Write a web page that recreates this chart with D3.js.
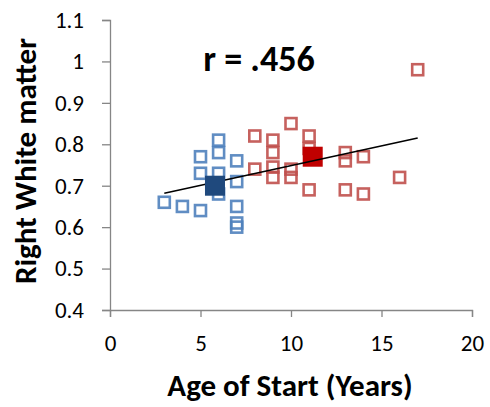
<!DOCTYPE html>
<html lang="en">
<head>
<meta charset="UTF-8">
<title>Right White matter vs Age of Start</title>
<script src="https://cdn.jsdelivr.net/npm/d3@7"></script>
<style>
    body { margin: 0; background: #fff; }
    text { font-family: Calibri, Carlito, Lato, sans-serif; fill: #000; }
</style>
</head>
<body>
<div id="chart"></div>
<script>
    // early starters (blue)
    const blueAge = [3, 4, 5, 5, 5, 6, 6, 6, 6, 7, 7, 7, 7, 7]
    const blueWM = [0.66, 0.65, 0.64, 0.77, 0.73, 0.81, 0.78, 0.73, 0.68, 0.76, 0.71, 0.65, 0.61, 0.60]
    // late starters (red)
    const redAge = [8, 8, 9, 9, 9, 9, 10, 10, 10, 11, 11, 11, 13, 13, 13, 14, 14, 16, 17]
    const redWM = [0.82, 0.74, 0.81, 0.78, 0.745, 0.72, 0.85, 0.74, 0.72, 0.82, 0.79, 0.69, 0.78, 0.76, 0.69, 0.77, 0.68, 0.72, 0.98]
    // group means
    const blueMean = [5.8, 0.70]
    const redMean = [11.2, 0.77]
    // linear fit
    const fitAge = [3, 17]
    const fitWM = [0.682, 0.815]
    const xTicks = [0, 5, 10, 15, 20]
    const yTicks = [0.4, 0.5, 0.6, 0.7, 0.8, 0.9, 1, 1.1]

    const W = 490, H = 407
    const svg = d3.select("#chart").append("svg")
        .attr("width", W).attr("height", H)

    const x = d3.scaleLinear().domain([0, 20]).range([110, 472])
    const y = d3.scaleLinear().domain([0.4, 1.1]).range([310, 20])
    const axisGrey = "#868686"

    // axes
    const xAxis = svg.append("g")
        .attr("transform", `translate(0,${y(0.4)})`)
        .call(d3.axisBottom(x).tickValues(xTicks).tickSize(7).tickPadding(18)
            .tickFormat(d3.format("d")))
    const yAxis = svg.append("g")
        .attr("transform", `translate(${x(0)},0)`)
        .call(d3.axisLeft(y).tickValues(yTicks).tickSize(8).tickPadding(18)
            .tickFormat(d => d === 1 ? "1" : d3.format(".1f")(d)))
    for (const g of [xAxis, yAxis]) {
        g.select(".domain").attr("stroke", axisGrey).attr("stroke-width", 1.3)
        g.selectAll(".tick line").attr("stroke", axisGrey).attr("stroke-width", 1.3)
        g.selectAll(".tick text").style("font-size", "23px").attr("fill", "#000")
    }

    // open squares
    const s = 11
    const drawOpen = (ages, vals, color) => svg.append("g")
        .selectAll("rect").data(d3.zip(ages, vals)).enter()
        .append("rect")
        .attr("x", d => x(d[0]) - s / 2)
        .attr("y", d => y(d[1]) - s / 2)
        .attr("width", s).attr("height", s)
        .attr("fill", "none")
        .attr("stroke", color)
        .attr("stroke-opacity", 0.9)
        .attr("stroke-width", 2.6)
    drawOpen(blueAge, blueWM, "#4f81bd")
    drawOpen(redAge, redWM, "#c0504d")

    const m = 20
    const drawMean = (pt, color) => svg.append("rect")
        .attr("x", x(pt[0]) - m / 2).attr("y", y(pt[1]) - m / 2)
        .attr("width", m).attr("height", m)
        .attr("fill", color)
    drawMean(redMean, "#c00000")

    svg.append("path")
        .datum(d3.zip(fitAge, fitWM))
        .attr("fill", "none")
        .attr("stroke", "#000")
        .attr("stroke-width", 1.6)
        .attr("d", d3.line().x(d => x(d[0])).y(d => y(d[1])))

    drawMean(blueMean, "#1f497d")

    // labels
    svg.append("text")
        .attr("x", 259).attr("y", 71)
        .attr("text-anchor", "middle")
        .style("font-size", "36px").style("font-weight", "bold")
        .text("r = .456")
    svg.append("text")
        .attr("x", 290).attr("y", 396)
        .attr("text-anchor", "middle")
        .style("font-size", "31px").style("font-weight", "bold")
        .text("Age of Start (Years)")
    svg.append("text")
        .attr("transform", "translate(36,161) rotate(-90)")
        .attr("text-anchor", "middle")
        .style("font-size", "31px").style("font-weight", "bold")
        .text("Right White matter")
</script>
</body>
</html>
